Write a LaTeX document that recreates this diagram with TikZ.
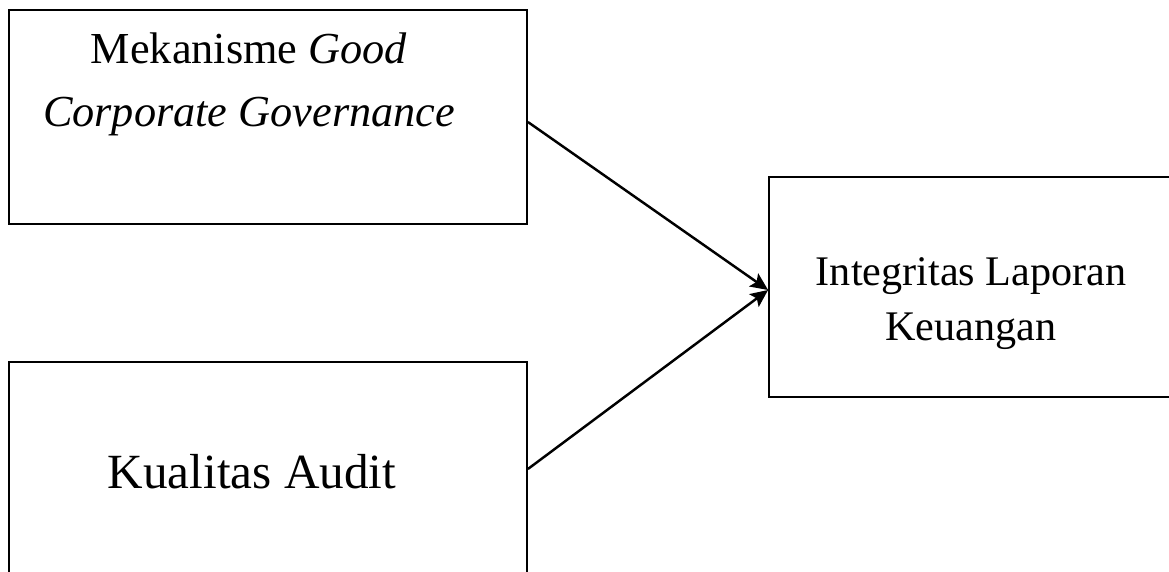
\documentclass[tikz,border=0pt]{standalone}
\usepackage{fontspec}
\setmainfont{Liberation Serif}
\usetikzlibrary{arrows.meta,positioning}

\begin{document}
\begin{tikzpicture}[
  x=0.02cm, y=-0.02cm,
  var/.style={draw=black, line width=1.1pt, minimum width=10.36cm, minimum height=4.28cm},
  txt/.style={inner sep=0pt, align=center},
  link/.style={line width=1.4pt, -{Stealth[length=10pt, width=9pt, inset=2pt]}}
]
\useasboundingbox (0,0) rectangle (1169,571);
\clip (0,0) rectangle (1169,571);

% independent variables
\node[var] (gcg) at (268,117) {};
\node[var] (audit) at (268,469) {};
% dependent variable
\node[var, minimum width=8.08cm, minimum height=4.4cm] (ilk) at (971,287) {};

\node[txt, anchor=north, font=\fontsize{25.2}{36.3}\selectfont] (gcgtxt) at (249,32)
  {Mekanisme \textit{Good}\\ \textit{Corporate Governance}};
\node[txt, anchor=base, font=\fontsize{28}{34}\selectfont] (audittxt) at (252,488)
  {Kualitas Audit};
\node[txt, anchor=north, font=\fontsize{24}{31.2}\selectfont] (ilktxt) at (971,257)
  {Integritas Laporan\\ Keuangan};

\draw[link] ([yshift=-0.1cm]gcg.east) -- ([yshift=-0.06cm]ilk.west);
\draw[link] (audit.east) -- ([yshift=-0.06cm]ilk.west);
\end{tikzpicture}
\end{document}
